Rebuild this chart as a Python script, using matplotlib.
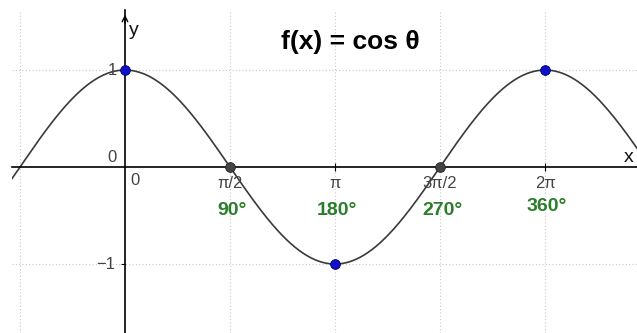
import numpy as np
import matplotlib.pyplot as plt

plt.rcParams['font.family'] = ['Liberation Sans', 'DejaVu Sans']

# chart data
tick_pos = [0, np.pi / 2, np.pi, 3 * np.pi / 2, 2 * np.pi]
tick_labels = ['0', 'π/2', 'π', '3π/2', '2π']
deg_pos = [np.pi / 2, np.pi, 3 * np.pi / 2, 2 * np.pi]
deg_labels = ['90°', '180°', '270°', '360°']
max_min_x = [0, np.pi, 2 * np.pi]
max_min_y = [1, -1, 1]
zero_x = [np.pi / 2, 3 * np.pi / 2]
zero_y = [0, 0]
grid_x = [-np.pi / 2, np.pi / 2, np.pi, 3 * np.pi / 2, 2 * np.pi]
grid_y = [-1, 1]

fig = plt.figure(figsize=(6.37, 3.33), dpi=100)
ax = fig.add_axes([12 / 637, 0, 625 / 637, 323 / 333])
ax.set_xlim(-1.690, 7.659)
ax.set_ylim(-1.711, 1.619)

for gx in grid_x:
    ax.axvline(gx, color='#c8c8c8', lw=0.8, ls=(0, (1, 2)), zorder=0)
for gy in grid_y:
    ax.axhline(gy, color='#c8c8c8', lw=0.8, ls=(0, (1, 2)), zorder=0)

# axes through origin
for s in ['top', 'right']:
    ax.spines[s].set_visible(False)
ax.spines['left'].set_position(('data', 0))
ax.spines['bottom'].set_position(('data', 0))
ax.spines['left'].set_linewidth(1.2)
ax.spines['bottom'].set_linewidth(1.2)
ax.set_xticks(tick_pos[1:])
ax.set_yticks(grid_y)
ax.tick_params(axis='x', direction='inout', length=6, width=0.8, labelbottom=False)
ax.tick_params(axis='y', direction='out', length=3, width=0.8, labelleft=False)
ax.annotate('', xy=(0, 1.60), xytext=(0, 1.45),
            arrowprops=dict(arrowstyle='->', lw=1.0, color='black', mutation_scale=10))

xs = np.linspace(-1.690, 7.659, 600)
ax.plot(xs, np.cos(xs), color='#3a3a3a', lw=1.2, zorder=2)

ax.plot(max_min_x, max_min_y, 'o', ms=7, color='#1010c8', mec='#000060', mew=0.6, zorder=3)
ax.plot(zero_x, zero_y, 'o', ms=7, color='#444444', mec='#222222', mew=0.6, zorder=3)

# tick labels
for xp, lab in zip(tick_pos, tick_labels):
    if lab == '0':
        ax.text(xp + 0.15, -0.14, lab, ha='center', va='center', fontsize=12, color='#444444')
    else:
        ax.text(xp, -0.17, lab, ha='center', va='center', fontsize=12, color='#444444')
ax.text(-0.19, 0.10, '0', ha='center', va='center', fontsize=12, color='#444444')
ax.text(-0.19, 1.0, '1', ha='center', va='center', fontsize=12, color='#444444')
ax.text(-0.29, -1.0, '−1', ha='center', va='center', fontsize=12, color='#444444')

for i, (xp, lab) in enumerate(zip(deg_pos, deg_labels)):
    yy = -0.45 if i < 3 else -0.41
    ax.text(xp + 0.03, yy, lab, ha='center', va='center', fontsize=14,
            fontweight='bold', color='#2a7d2a')

ax.text(0.13, 1.41, 'y', ha='center', va='center', fontsize=14, color='#111111')
ax.text(7.53, 0.10, 'x', ha='center', va='center', fontsize=14, color='#111111')

ax.text(3.37, 1.29, 'f(x) = cos θ', ha='center', va='center', fontsize=19,
        fontweight='bold', color='black')

fig.savefig('out.png', dpi=100)
